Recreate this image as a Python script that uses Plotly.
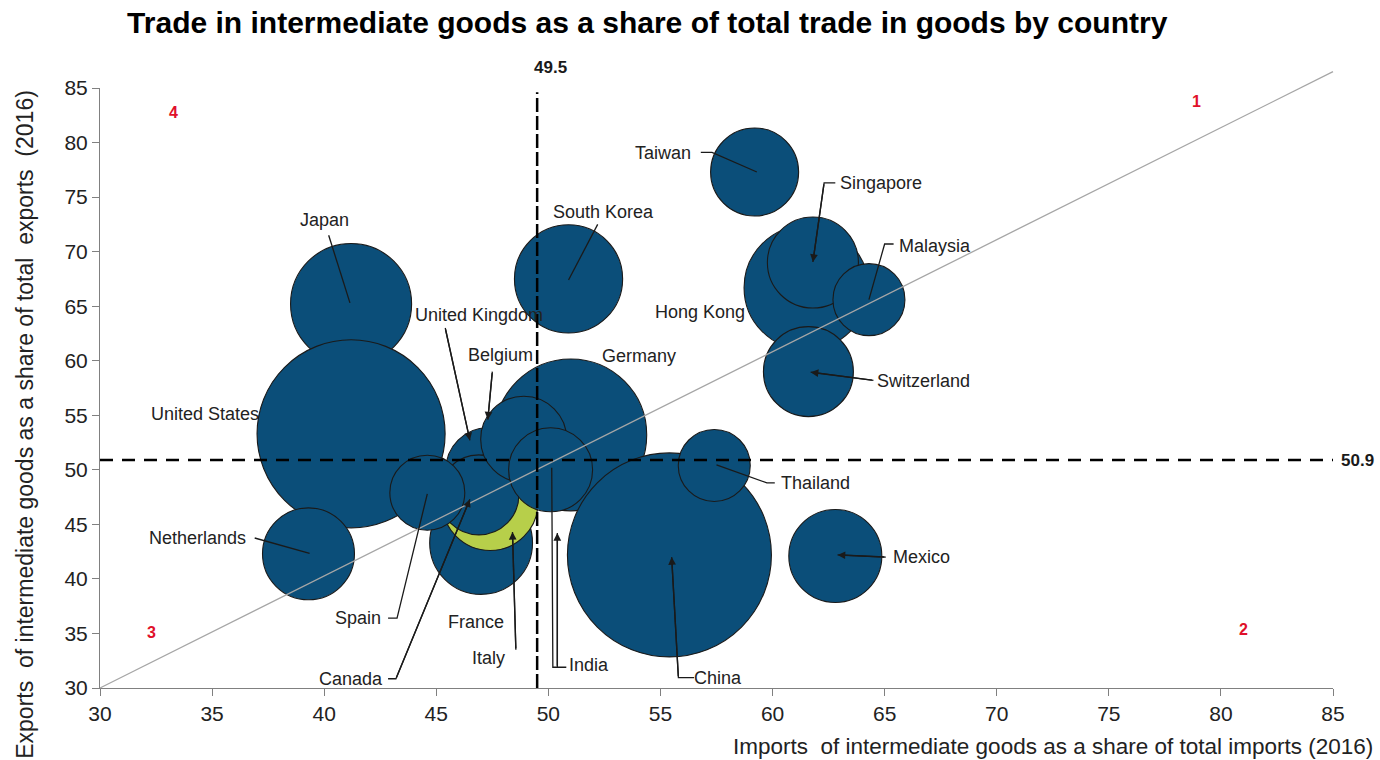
import plotly.graph_objects as go

# Countries in drawing order (first drawn at the bottom)
countries = ["Japan", "United States", "Germany", "China", "Hong Kong", "South Korea",
             "Taiwan", "United Kingdom", "France", "Italy", "Canada", "Spain", "Belgium",
             "India", "Netherlands", "Thailand", "Mexico", "Singapore", "Switzerland",
             "Malaysia"]
# Intermediate goods share of total imports, 2016 (%)
imports_share = [41.2, 41.2, 51.0, 55.4, 61.5, 50.9, 59.2, 47.3, 47.0, 47.4, 46.9,
                 44.6, 48.9, 50.1, 39.3, 57.4, 62.8, 61.8, 61.6, 64.3]
# Intermediate goods share of total exports, 2016 (%)
exports_share = [65.2, 53.3, 53.2, 42.2, 66.7, 67.5, 77.3, 50.0, 43.3, 47.0, 47.7,
                 47.9, 52.8, 50.0, 42.3, 50.4, 42.1, 69.0, 59.0, 65.6]
# Total trade in goods (USD bn), bubble area
trade_bn = [845, 2040, 1330, 2400, 890, 675, 447, 407, 610, 530, 369, 324, 427,
            407, 488, 299, 499, 478, 467, 299]

avg_imports = 49.5
avg_exports = 50.9
x_ticks = [30, 35, 40, 45, 50, 55, 60, 65, 70, 75, 80, 85]
y_ticks = [30, 35, 40, 45, 50, 55, 60, 65, 70, 75, 80, 85]

X_RANGE = [30, 85]
Y_RANGE = [30, 85]

BLUE = "#0b4e79"
GREEN = "#b7cf4a"
INK = "#1a1a1a"
FONT = "Liberation Sans, Arial, sans-serif"
MAX_BUBBLE_PX = 204

colors = [GREEN if c == "Italy" else BLUE for c in countries]

fig = go.Figure()
fig.add_trace(go.Scatter(
    x=imports_share, y=exports_share, mode="markers", text=countries,
    hovertemplate="%{text}<br>Imports: %{x}<br>Exports: %{y}<extra></extra>",
    marker=dict(size=trade_bn, sizemode="area",
                sizeref=2.0 * max(trade_bn) / MAX_BUBBLE_PX ** 2,
                color=colors, opacity=1, line=dict(color=INK, width=1.1)),
    showlegend=False, cliponaxis=False,
))

shapes = []
annotations = []

# Diagonal guide line, drawn in paper space so it can run past the top of the axis
def to_paper(v, rng):
    return (v - rng[0]) / (rng[1] - rng[0])

shapes.append(dict(type="line", xref="paper", yref="paper",
                   x0=to_paper(30, X_RANGE), y0=to_paper(30, Y_RANGE),
                   x1=to_paper(85, X_RANGE), y1=to_paper(86.5, Y_RANGE),
                   line=dict(color="#a6a6a6", width=1.3), layer="above"))

# Average lines
shapes.append(dict(type="line", xref="x", yref="y", x0=avg_imports, x1=avg_imports,
                   y0=30, y1=84.6, line=dict(color="black", width=2.5, dash="14px,4px"),
                   layer="above"))
shapes.append(dict(type="line", xref="x", yref="y", x0=30, x1=85,
                   y0=avg_exports, y1=avg_exports,
                   line=dict(color="black", width=2.5, dash="13px,9px"), layer="above"))

annotations.append(dict(x=avg_imports, y=1.0, xref="x", yref="paper",
                        yshift=32, text="<b>%.1f</b>" % avg_imports, showarrow=False,
                        xanchor="left", xshift=-5,
                        font=dict(family=FONT, size=17, color=INK)))
annotations.append(dict(x=1.0, y=avg_exports, xref="paper", yref="y", xshift=6,
                        text="<b>%.1f</b>" % avg_exports, showarrow=False,
                        xanchor="left", font=dict(family=FONT, size=17, color=INK)))

# Quadrant numbers
for num, qx, qy in [("1", 78.9, 83.8), ("2", 81.0, 35.4), ("3", 32.3, 35.1), ("4", 33.3, 82.8)]:
    annotations.append(dict(x=qx, y=qy, xref="x", yref="y", text="<b>%s</b>" % num,
                            showarrow=False, font=dict(family=FONT, size=16, color="#e0102a")))

# Country labels: (text, label x, label y, leader points, arrowhead on last segment)
labels = [
    ("Taiwan", 55.1, 79.0, [(56.8, 79.1), (57.3, 79.1), (59.3, 77.3)], False),
    ("Singapore", 64.85, 76.3, [(62.8, 76.3), (62.3, 76.3), (61.8, 69.05)], True),
    ("Malaysia", 67.25, 70.5, [(65.4, 70.7), (65.0, 70.7), (64.3, 65.6)], False),
    ("Hong Kong", 56.75, 64.45, [], False),
    ("Switzerland", 66.75, 58.15, [(64.5, 58.2), (61.7, 58.95)], True),
    ("South Korea", 52.45, 73.6, [(52.2, 72.5), (50.9, 67.4)], False),
    ("Japan", 40.0, 72.9, [(40.2, 71.5), (41.15, 65.3)], False),
    ("United Kingdom", 46.9, 64.2, [(45.4, 63.0), (46.5, 52.7)], True),
    ("Belgium", 47.85, 60.5, [(47.5, 59.0), (47.3, 54.6)], True),
    ("Germany", 54.05, 60.45, [], False),
    ("United States", 34.7, 55.1, [], False),
    ("Netherlands", 34.35, 43.75, [(36.9, 43.75), (39.35, 42.35)], False),
    ("Spain", 41.5, 36.4, [(42.85, 36.4), (43.25, 36.4), (44.6, 47.8)], False),
    ("Canada", 41.2, 30.85, [(42.85, 30.85), (43.2, 30.85), (46.5, 47.3)], True),
    ("France", 46.75, 36.05, [], False),
    ("Italy", 47.35, 32.75, [(48.55, 33.5), (48.4, 44.3)], True),
    ("India", 51.8, 32.1, [(50.8, 31.9), (50.2, 31.9), (50.15, 50.2)], False),
    ("", 0, 0, [(50.4, 31.9), (50.4, 44.2)], True),
    ("China", 57.55, 30.95, [(56.5, 30.95), (55.8, 30.95), (55.5, 42.0)], True),
    ("Thailand", 61.9, 48.8, [(60.1, 48.8), (59.75, 48.8), (57.5, 50.45)], False),
    ("Mexico", 66.65, 42.0, [(65.05, 42.0), (62.9, 42.2)], True),
]

for text, lx, ly, pts, arrow in labels:
    if text:
        annotations.append(dict(x=lx, y=ly, xref="x", yref="y", text=text, showarrow=False,
                                font=dict(family=FONT, size=18, color="#222")))
    if len(pts) >= 2:
        path = "M %s,%s " % pts[0] + " ".join("L %s,%s" % p for p in pts[1:])
        shapes.append(dict(type="path", xref="x", yref="y", path=path,
                           line=dict(color=INK, width=1.3), layer="above"))
        if arrow:
            (tx, ty), (hx, hy) = pts[-2], pts[-1]
            annotations.append(dict(x=hx, y=hy, ax=tx, ay=ty, xref="x", yref="y",
                                    axref="x", ayref="y", text="", showarrow=True,
                                    arrowhead=2, arrowsize=1.1, arrowwidth=1.4,
                                    arrowcolor=INK, standoff=0, startstandoff=0))

# Axis titles
annotations.append(dict(x=1.034, y=-0.097, xref="paper", yref="paper", xanchor="right",
                        yanchor="middle", showarrow=False,
                        text="Imports  of intermediate goods as a share of total imports (2016)",
                        font=dict(family=FONT, size=22.5, color="#222")))
annotations.append(dict(x=-0.061, y=0.44, xref="paper", yref="paper", xanchor="center",
                        yanchor="middle", showarrow=False, textangle=-90,
                        text="Exports  of intermediate goods as a share of total  exports  (2016)",
                        font=dict(family=FONT, size=23, color="#222")))

axis_common = dict(showgrid=False, zeroline=False, showline=True, linecolor="#808080",
                   linewidth=1, ticks="outside", ticklen=7, tickcolor="#808080",
                   tickfont=dict(family=FONT, size=21, color="#222"))

fig.update_layout(
    width=1380, height=760,
    margin=dict(l=100, r=47, t=88, b=72),
    paper_bgcolor="white", plot_bgcolor="white",
    title=dict(text="<b>Trade in intermediate goods as a share of total trade in goods by country</b>",
               x=0.469, xanchor="center", y=0.971, yanchor="middle",
               font=dict(family=FONT, size=30, color="black")),
    xaxis=dict(range=X_RANGE, tickvals=x_ticks, **axis_common),
    yaxis=dict(range=Y_RANGE, tickvals=y_ticks, **axis_common),
    shapes=shapes, annotations=annotations,
)

fig.write_html("out.html")
